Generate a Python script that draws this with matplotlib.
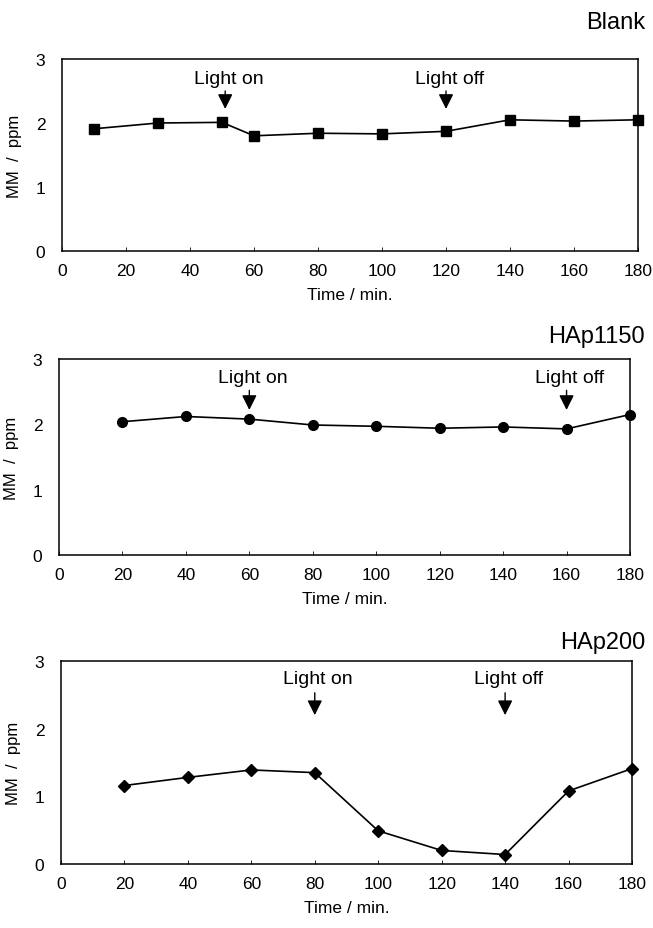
import matplotlib
matplotlib.use("Agg")
import matplotlib.pyplot as plt

FONT = "Liberation Sans"

# Data
blank_x = [10, 30, 50, 60, 80, 100, 120, 140, 160, 180]
blank_y = [1.91, 2.00, 2.01, 1.80, 1.84, 1.83, 1.87, 2.05, 2.03, 2.05]
hap1150_x = [20, 40, 60, 80, 100, 120, 140, 160, 180]
hap1150_y = [2.04, 2.12, 2.08, 1.99, 1.97, 1.94, 1.96, 1.93, 2.15]
hap200_x = [20, 40, 60, 80, 100, 120, 140, 160, 180]
hap200_y = [1.16, 1.28, 1.39, 1.35, 0.49, 0.20, 0.14, 1.08, 1.41]

titles = ["Blank", "HAp1150", "HAp200"]
light_on = [51, 60, 80]
light_off = [120, 160, 140]
xticks = [0, 20, 40, 60, 80, 100, 120, 140, 160, 180]
yticks = [0, 1, 2, 3]

W, H = 653, 929
fig = plt.figure(figsize=(W / 100, H / 100), dpi=100)

# axes boxes in pixels: left, right, top, bottom
boxes = [(62, 638, 60, 252), (59, 630, 360, 556), (61, 632, 662, 865)]
markers = [("s", 7), ("o", 7), ("D", 6)]
series = [(blank_x, blank_y), (hap1150_x, hap1150_y), (hap200_x, hap200_y)]
title_y = [23, 337, 643]
arrow_top = [2.50, 2.52, 2.53]
arrow_tip = [2.22, 2.22, 2.20]
text_y = [2.69, 2.71, 2.74]

for i in range(3):
    l, r, t, b = boxes[i]
    ax = fig.add_axes([l / W, 1 - b / H, (r - l) / W, (b - t) / H])
    x, y = series[i]
    m, ms = markers[i]
    ax.plot(x, y, color="black", lw=1.2, marker=m, ms=ms, mfc="black",
            mec="black", clip_on=False, zorder=5)
    ax.set_xlim(0, 180)
    ax.set_ylim(0, 3)
    ax.set_xticks(xticks)
    ax.set_yticks(yticks)
    ax.tick_params(axis="x", direction="in", length=3, width=0.6, pad=9, labelsize=12.5)
    ax.tick_params(axis="y", length=0, pad=12, labelsize=12.5)
    for lab in ax.get_xticklabels() + ax.get_yticklabels():
        lab.set_fontfamily(FONT)
    for s in ax.spines.values():
        s.set_linewidth(1.1)
    ax.set_xlabel("Time / min.", fontsize=12.5, family=FONT, labelpad=6)
    ax.set_ylabel("MM  /  ppm", fontsize=12, family=FONT, labelpad=10)
    for xv, txt in [(light_on[i], "Light on"), (light_off[i], "Light off")]:
        ax.annotate("", xy=(xv, arrow_tip[i]), xytext=(xv, arrow_top[i]),
                    arrowprops=dict(arrowstyle="-|>,head_width=0.45,head_length=0.9",
                                    mutation_scale=10, color="black", lw=1.0,
                                    shrinkA=0, shrinkB=0))
        ax.text(xv + 1, text_y[i], txt, ha="center", va="center", fontsize=14, family=FONT)
    fig.text(645 / W, 1 - title_y[i] / H, titles[i], ha="right", va="center",
             fontsize=17, family=FONT)

fig.savefig("out.png", dpi=100)
